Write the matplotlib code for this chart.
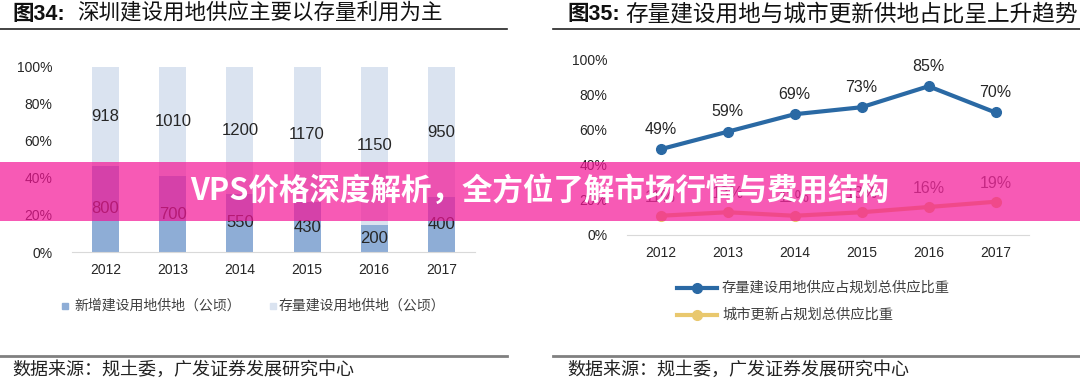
import matplotlib
matplotlib.use("Agg")
import matplotlib.pyplot as plt
from matplotlib.patches import Rectangle
from matplotlib.lines import Line2D

plt.rcParams['font.family'] = ['Liberation Sans', 'Noto Sans CJK SC', 'DejaVu Sans']

# datos
years = ['2012', '2013', '2014', '2015', '2016', '2017']
nuevo = [800, 700, 550, 430, 200, 400]          # 新增建设用地供地（公顷）
stock = [918, 1010, 1200, 1170, 1150, 950]      # 存量建设用地供地（公顷）
pct_stock = [49, 59, 69, 73, 85, 70]            # 存量建设用地供应占规划总供应比重
pct_urban = [11, 13, 11, 13, 16, 19]            # 城市更新占规划总供应比重

W, H = 1080, 383
fig = plt.figure(figsize=(W / 100, H / 100), dpi=100)


def box(x0, y0, x1, y1):
    # caja en píxeles (origen arriba-izquierda) -> coordenadas de figura
    return [x0 / W, 1 - y1 / H, (x1 - x0) / W, (y1 - y0) / H]


def fx(x):
    return x / W


def fy(y):
    return 1 - y / H


c_new = '#8EADD6'
c_stock = '#DAE3F0'
c_blue = '#2A69A4'
c_yel = '#E9C86E'
txt = '#262626'

# ---------------- panel izquierdo: barras apiladas 100% ----------------
ax1 = fig.add_axes(box(72, 67, 475, 252))
tot = [a + b for a, b in zip(nuevo, stock)]
f_new = [a / t for a, t in zip(nuevo, tot)]
f_stock = [b / t for b, t in zip(stock, tot)]
xs = range(len(years))
ax1.bar(xs, f_new, width=0.4, color=c_new, zorder=2)
ax1.bar(xs, f_stock, width=0.4, bottom=f_new, color=c_stock, zorder=2)
for i in xs:
    ax1.text(i, f_new[i] / 2, str(nuevo[i]), ha='center', va='center', fontsize=12, color=txt)
    ax1.text(i, f_new[i] + f_stock[i] / 2, str(stock[i]), ha='center', va='center',
             fontsize=12, color=txt)
ax1.set_xlim(-0.5, 5.5)
ax1.set_ylim(0, 1)
ax1.set_yticks([0, 0.2, 0.4, 0.6, 0.8, 1.0])
ax1.set_yticklabels(['0%', '20%', '40%', '60%', '80%', '100%'])
ax1.set_xticks(list(xs))
ax1.set_xticklabels(years)
for s in ['top', 'right', 'left']:
    ax1.spines[s].set_visible(False)
ax1.spines['bottom'].set_color('#D9D9D9')
ax1.tick_params(length=0, labelsize=10, colors=txt)
ax1.tick_params(axis='y', pad=14)
ax1.tick_params(axis='x', pad=8)

# leyenda izquierda
fig.add_artist(Rectangle((fx(62), fy(309)), 6 / W, 6 / H, color=c_new, transform=fig.transFigure))
fig.text(fx(74), fy(306), '新增建设用地供地（公顷）', fontsize=10, color='#404040', va='center')
fig.add_artist(Rectangle((fx(270), fy(309)), 6 / W, 6 / H, color=c_stock, transform=fig.transFigure))
fig.text(fx(279), fy(306), '存量建设用地供地（公顷）', fontsize=10, color='#404040', va='center')

# ---------------- panel derecho: líneas ----------------
ax2 = fig.add_axes(box(627, 60, 1029, 235))
ax2.plot(xs, pct_stock, color=c_blue, lw=3, marker='o', ms=7, zorder=3)
ax2.plot(xs, pct_urban, color=c_yel, lw=3, marker='o', ms=7, zorder=3)
for i in xs:
    ax2.annotate(f'{pct_stock[i]}%', (i, pct_stock[i]), xytext=(0, 9), textcoords='offset points',
                 ha='center', va='bottom', fontsize=11.5, color=txt)
    ax2.annotate(f'{pct_urban[i]}%', (i, pct_urban[i]), xytext=(0, 8), textcoords='offset points',
                 ha='center', va='bottom', fontsize=11.5, color='#595959')
ax2.set_xlim(-0.5, 5.5)
ax2.set_ylim(0, 100)
ax2.set_yticks([0, 20, 40, 60, 80, 100])
ax2.set_yticklabels(['0%', '20%', '40%', '60%', '80%', '100%'])
ax2.set_xticks(list(xs))
ax2.set_xticklabels(years)
for s in ['top', 'right', 'left']:
    ax2.spines[s].set_visible(False)
ax2.spines['bottom'].set_color('#D9D9D9')
ax2.tick_params(length=0, labelsize=10, colors=txt)
ax2.tick_params(axis='y', pad=14)
ax2.tick_params(axis='x', pad=8)

# leyenda derecha
for yy, col, lab in [(288, c_blue, '存量建设用地供应占规划总供应比重'),
                     (315, c_yel, '城市更新占规划总供应比重')]:
    fig.add_artist(Line2D([fx(677), fx(717)], [fy(yy), fy(yy)], color=col, lw=3,
                          transform=fig.transFigure))
    fig.add_artist(Line2D([fx(697)], [fy(yy)], color=col, marker='o', ms=7,
                          transform=fig.transFigure))
    fig.text(fx(722), fy(yy), lab, fontsize=10.3, color='#404040', va='center')

# ---------------- títulos, líneas y fuentes ----------------
fig.text(fx(12), fy(14), '图34:', fontsize=15.5, fontweight='bold', va='center', color='#111111')
fig.text(fx(77), fy(14), '深圳建设用地供应主要以存量利用为主', fontsize=15.5, va='center', color='#111111')
fig.text(fx(567), fy(14), '图35:', fontsize=15.5, fontweight='bold', va='center', color='#111111')
fig.text(fx(625), fy(14), '存量建设用地与城市更新供地占比呈上升趋势', fontsize=16.3, va='center',
         color='#111111')
fig.add_artist(Line2D([0, fx(507)], [fy(29), fy(29)], color='#222222', lw=1.2, transform=fig.transFigure))
fig.add_artist(Line2D([fx(553), 1], [fy(29), fy(29)], color='#222222', lw=1.2, transform=fig.transFigure))
fig.add_artist(Line2D([0, fx(507)], [fy(356), fy(356)], color='#808080', lw=2, transform=fig.transFigure))
fig.add_artist(Line2D([fx(553), 1], [fy(356), fy(356)], color='#808080', lw=2, transform=fig.transFigure))
fig.text(fx(12), fy(370), '数据来源：规土委，广发证券发展研究中心', fontsize=13, va='center', color='#222222')
fig.text(fx(567), fy(370), '数据来源：规土委，广发证券发展研究中心', fontsize=13, va='center', color='#222222')

# ---------------- banda rosa ----------------
fig.add_artist(Rectangle((0, fy(221)), 1, 59 / H, color='#F41496', alpha=0.7, lw=0,
                         transform=fig.transFigure, zorder=10))
fig.text(0.5, fy(191), 'VPS价格深度解析，全方位了解市场行情与费用结构', fontsize=22, fontweight='bold',
         color='white', ha='center', va='center', zorder=11,
         family=['Noto Sans CJK SC', 'DejaVu Sans'])

fig.savefig('out.png', dpi=100)
